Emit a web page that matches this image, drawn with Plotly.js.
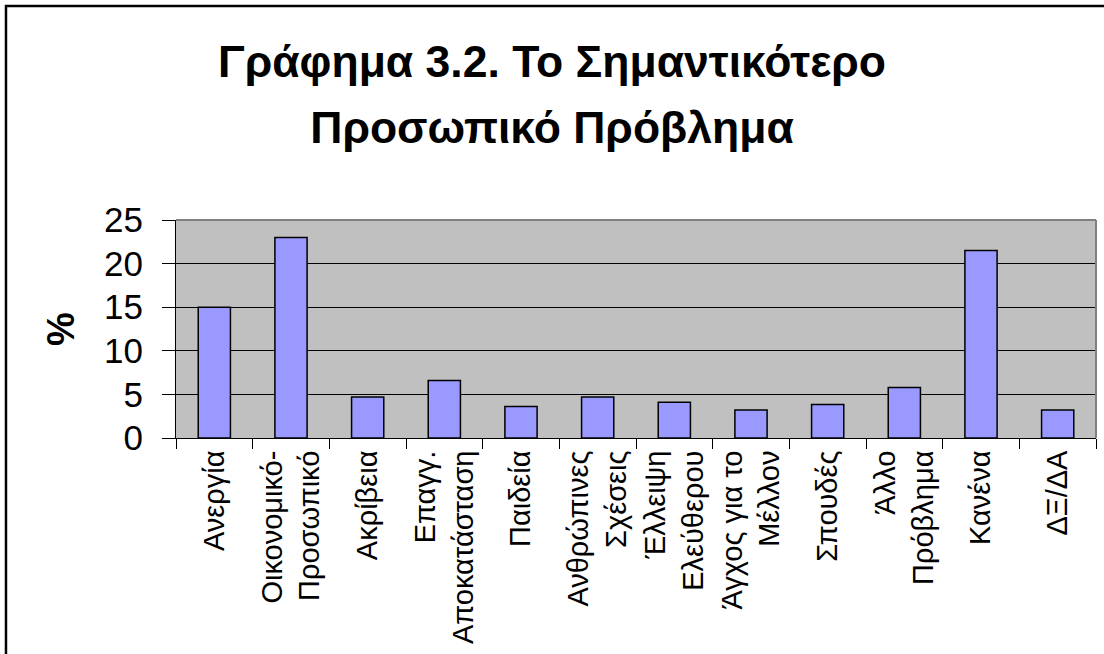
<!DOCTYPE html>
<html>
<head>
<meta charset="utf-8">
<script src="https://cdn.plot.ly/plotly-3.0.1.min.js"></script>
<style>
html,body{margin:0;padding:0;background:#fff;}
#chart{width:1104px;height:654px;}
</style>
</head>
<body>
<div id="chart"></div>
<script>
const categories = [
  "Ανεργία",
  "Οικονομικό-<br>Προσωπικό",
  "Ακρίβεια",
  "Επαγγ.<br>Αποκατάσταση",
  "Παιδεία",
  "Ανθρώπινες<br>Σχέσεις",
  "Έλλειψη<br>Ελεύθερου",
  "Άγχος για το<br>Μέλλον",
  "Σπουδές",
  "Άλλο<br>Πρόβλημα",
  "Κανένα",
  "ΔΞ/ΔΑ"
];
const values = [15.0, 23.0, 4.7, 6.6, 3.6, 4.7, 4.1, 3.2, 3.85, 5.8, 21.5, 3.2];
const yTicks = [0, 5, 10, 15, 20, 25];
const titleLine1 = "Γράφημα 3.2. Το Σημαντικότερο";
const titleLine2 = "Προσωπικό Πρόβλημα";
const yTitle = "%";

const trace = {
  type: 'bar',
  x: categories,
  y: values,
  marker: {color: '#9999FF', line: {color: '#000000', width: 1.5}},
  hoverinfo: 'x+y'
};

const layout = {
  width: 1104,
  height: 654,
  margin: {l: 176, r: 8, t: 220, b: 216},
  paper_bgcolor: '#FFFFFF',
  plot_bgcolor: '#C0C0C0',
  font: {family: 'Liberation Sans, Arial, sans-serif', color: '#000'},
  bargap: 0.58,
  showlegend: false,
  title: {
    text: '<span style="font-size:44.5px">' + titleLine1 + '</span><br><span style="font-size:44.5px">' + titleLine2 + '</span>',
    font: {family: 'Liberation Sans, Arial, sans-serif', size: 51, color: '#000', weight: 'bold'},
    x: 0.5, xref: 'container', xanchor: 'center',
    y: 0.883, yref: 'container', yanchor: 'top'
  },
  xaxis: {
    type: 'category',
    tickangle: -90,
    tickfont: {size: 29, color: '#000'},
    showline: true, linecolor: '#000', linewidth: 1,
    ticks: 'outside', ticklen: 10, tickcolor: '#000', tickwidth: 1,
    tickson: 'boundaries',
    showgrid: false,
    automargin: false
  },
  yaxis: {
    range: [0, 25],
    tickvals: yTicks,
    ticktext: yTicks.map(String),
    tickfont: {size: 35, color: '#000'},
    ticklabelstandoff: 12,
    showline: true, linecolor: '#000', linewidth: 1,
    ticks: 'outside', ticklen: 13, tickcolor: '#000', tickwidth: 1,
    showgrid: true, gridcolor: '#000', gridwidth: 1,
    zeroline: false,
    automargin: false,
    title: {text: yTitle, font: {size: 38, weight: 'bold', color: '#000'}, standoff: 17}
  },
  shapes: [
    {type: 'line', xref: 'paper', yref: 'paper', x0: 0, x1: 1, y0: 1, y1: 1, line: {color: '#808080', width: 2}, layer: 'above'},
    {type: 'line', xref: 'paper', yref: 'paper', x0: 1, x1: 1, y0: 0, y1: 1, line: {color: '#808080', width: 2}, layer: 'above'},
    {type: 'path', xref: 'paper', yref: 'paper',
     path: 'M -0.1848 -1.2 L -0.1848 1.9817 L 1.2 1.9817',
     line: {color: '#000', width: 2.5}, layer: 'above'}
  ]
};

Plotly.newPlot('chart', [trace], layout, {displayModeBar: false, staticPlot: true});
</script>
</body>
</html>
